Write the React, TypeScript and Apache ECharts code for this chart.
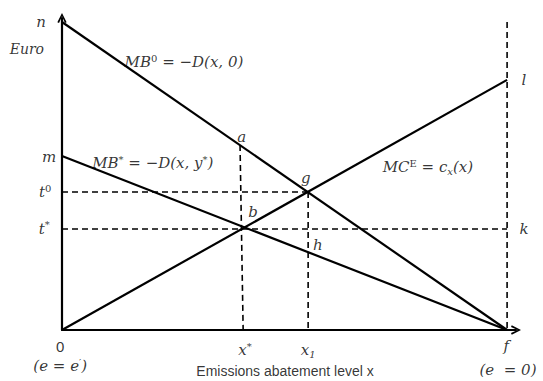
import React, { useEffect, useRef } from 'react';
import * as echarts from 'echarts';

// Key values (data units: x from 0 to f = 100, Euro from 0 to n = 100)
const F = 100;
const N = 100;
const M = 56.5;
const L = 81.2;
const T0 = 44.8;
const T_STAR = 32.8;
const X_STAR_TOP = 40.0;
const X_STAR = 40.7;
const X_ONE = 55.3;
const A_Y = 60.1;

// Curves
const mb0 = [[0, N], [F, 0]];
const mbStar = [[0, M], [F, 0]];
const mcE = [[0, 0], [F, L]];

// Dashed guides
const dashT0 = [[0, T0], [X_ONE, T0]];
const dashTStar = [[0, T_STAR], [F, T_STAR]];
const dashXStar = [[X_STAR_TOP, A_Y], [X_STAR, 0]];
const dashX1 = [[X_ONE, T0], [X_ONE, 0]];
const dashF = [[F, N], [F, 0]];

// Annotation texts (rich markup) and their anchor positions (data units)
const mathTexts = ['n', 'm', 't{sup|0}', 't{sup|*}', 'x{sup|*}', 'x{sub|1}', 'f', 'l', 'k', 'a', 'g', 'b', 'h',
  'MB{sup|0} = −D(x, 0)', 'MB{sup|*} = −D(x, y{sup|*})', 'MC{sup|E} = c{sub|x}(x)', '(e = e{sup|′})', '(e  = 0)'];
const mathPos = [[-4.7, 100], [-2.9, 56.2], [-3.8, 44.8], [-4.0, 32.8], [41.1, -6.5], [55.3, -6.5],
  [99.8, -5.2], [103.8, 81.2], [103.8, 32.8], [40.4, 62.7], [54.8, 49.4], [42.9, 38.3], [57.5, 27.6],
  [27.4, 87.0], [20.4, 54.2], [82.2, 52.9], [-0.4, -11.7], [100.2, -13.0]];
const euroText = 'Euro';
const euroPos = [-7.9, 91.2];
const originText = '0';
const originPos = [-0.4, -5.2];
const xTitle = 'Emissions abatement level x';
const xTitlePos = [50.1, -13.3];

const chevron = 'path://M0,10 L5,0 L10,10 L8.2,10.8 L5,3.6 L1.8,10.8 Z';

export default function App() {
  const ref = useRef<HTMLDivElement>(null);
  useEffect(() => {
    document.body.style.margin = '0';
    const chart = echarts.init(ref.current!, null, { renderer: 'svg' });
    const solid = (data: number[][]) => ({
      type: 'line', data, symbol: 'none', silent: true,
      lineStyle: { color: '#000', width: 2.2 },
    });
    const dashed = (data: number[][]) => ({
      type: 'line', data, symbol: 'none', silent: true,
      lineStyle: { color: '#000', width: 1.6, type: [6, 4] },
    });
    const serif = { fontFamily: 'DejaVu Serif', fontStyle: 'italic', color: '#000' };
    const textSeries = (pts: number[][], texts: string[], style: any) => ({
      type: 'scatter', symbolSize: 0, clip: false, silent: true,
      data: pts.map((p, i) => ({ value: [p[0], p[1]], name: texts[i] })),
      label: {
        show: true, position: 'inside', formatter: (d: any) => d.name,
        color: '#000', ...style,
      },
    });
    chart.setOption({
      animation: false,
      grid: { left: 62, right: 27, top: 18, bottom: 51 },
      xAxis: {
        type: 'value', min: 0, max: 102,
        axisLine: { show: true, onZero: false, symbol: ['none', chevron], symbolSize: [13, 10], lineStyle: { color: '#000', width: 2.2 } },
        axisTick: { show: false }, axisLabel: { show: false }, splitLine: { show: false },
      },
      yAxis: {
        type: 'value', min: 0, max: 101.3,
        axisLine: { show: true, onZero: false, symbol: ['none', chevron], symbolSize: [13, 10], lineStyle: { color: '#000', width: 2.2 } },
        axisTick: { show: false }, axisLabel: { show: false }, splitLine: { show: false },
      },
      series: [
        solid(mb0), solid(mbStar), solid(mcE),
        dashed(dashT0), dashed(dashTStar), dashed(dashXStar), dashed(dashX1), dashed(dashF),
        textSeries(mathPos, mathTexts, {
          ...serif, fontSize: 15, lineHeight: 18,
          rich: {
            sup: { ...serif, fontSize: 10, verticalAlign: 'top', lineHeight: 18, fontStyle: 'normal' },
            sub: { ...serif, fontSize: 10, verticalAlign: 'bottom', lineHeight: 18 },
          },
        }),
        textSeries([euroPos], [euroText], { ...serif, fontSize: 14 }),
        textSeries([originPos], [originText], { fontFamily: 'Liberation Sans', fontSize: 15 }),
        textSeries([xTitlePos], [xTitle], { fontFamily: 'Liberation Sans', fontSize: 14 }),
      ],
    });
    return () => chart.dispose();
  }, []);
  return <div ref={ref} style={{ width: 543, height: 381, background: '#fff' }} />;
}
